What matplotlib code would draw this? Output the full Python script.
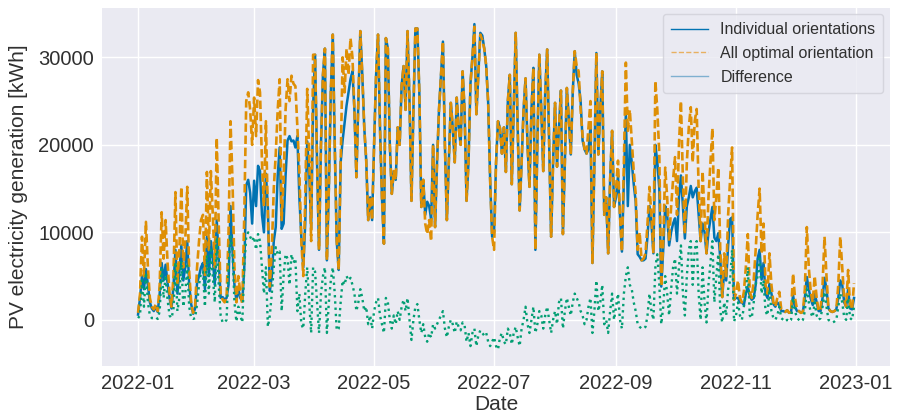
import numpy as np
import pandas as pd
import matplotlib
matplotlib.use("Agg")
import matplotlib.pyplot as plt
import matplotlib.dates as mdates
from matplotlib.lines import Line2D

start_date = "2022-01-01"
series_labels = ["Individual orientations", "All optimal orientation", "Difference"]
tick_months = [1, 3, 5, 7, 9, 11]
y_ticks = [0, 10000, 20000, 30000]

# All optimal orientation (kWh per day)
optimal = [
    # Jan
    800, 3000, 9500, 5000, 11200, 6000, 2500, 1500, 1200, 1800, 1000, 4000, 12300, 7000, 11400, 6500,
    3000, 1500, 5000, 14600, 4000, 8000, 15200, 6000, 9000, 15200, 5500, 2000, 800, 1500, 6000,
    # Feb
    9000, 11400, 12000, 5000, 16900, 8000, 17000, 12000, 6000, 20800, 11000, 3000, 2300, 2000,
    2500, 10000, 22700, 16000, 6000, 2000, 5000, 3000, 1800, 12000, 25000, 26000, 24000, 20000,
    # Mar
    25400, 21000, 27400, 26000, 18000, 13000, 22700, 12000, 3800, 8000, 15000, 18900, 24000, 27500,
    11400, 16000, 24000, 27500, 25000, 27900, 27000, 26700, 22000, 17000, 9000, 5000, 14000, 26400,
    19000, 9000, 30300,
    # Apr
    30300, 18000, 8000, 20000, 28000, 31000, 6800, 15000, 26000, 32600, 20000, 9000, 5700, 18000,
    30000, 26000, 31000, 28000, 32200, 30000, 24000, 16300, 25000, 33000, 28000, 22000, 18200,
    11400, 14000, 11400,
    # May
    20000, 28000, 32600, 22000, 14000, 8700, 32200, 31000, 20000, 14400, 17000, 16000, 22000, 20000,
    26800, 29000, 24000, 33000, 25000, 13600, 24000, 33300, 33300, 26000, 12900, 16000, 11000, 9800,
    11400, 9000, 20000,
    # Jun
    10600, 18000, 24000, 28000, 31800, 20000, 11400, 18000, 24800, 22000, 18000, 25400, 22000, 20000,
    28400, 24000, 13600, 18000, 27000, 30000, 33500, 23500, 28000, 32600, 32000, 31000, 29000, 24800,
    16000, 9500,
    # Jul
    8000, 18000, 22700, 21900, 19000, 22000, 16900, 25000, 28000, 15500, 24000, 32800, 22000, 12500,
    18000, 24000, 27600, 20000, 15200, 24000, 28800, 8000, 20000, 30300, 24000, 17000, 26000, 30900,
    20000, 9500, 18000,
    # Aug
    24800, 17500, 22000, 26200, 9800, 18000, 26500, 23000, 18900, 26000, 30700, 29000, 28400, 24000,
    21000, 19500, 19000, 22000, 25000, 6500, 18000, 30500, 18900, 24000, 28400, 12000, 14000, 7600,
    16000, 21600, 12900,
    # Sep
    15000, 18200, 12000, 7800, 18000, 29400, 21600, 24000, 20500, 17000, 14400, 8000, 10000, 6800,
    7000, 7600, 11000, 15200, 12000, 7600, 27300, 24000, 18900, 3800, 9000, 17400, 14000, 9000,
    12900, 16000,
    # Oct
    18600, 12000, 20000, 25000, 16000, 9800, 18000, 22000, 24300, 18000, 22700, 24100, 15000, 9000,
    17000, 12000, 7600, 14000, 18000, 21900, 11400, 14000, 17400, 8000, 2600, 7600, 5000, 12000,
    16000, 19700, 2300,
    # Nov
    3000, 4500, 2500, 2000, 3200, 6000, 9800, 3200, 2500, 4500, 8000, 12000, 15000, 7600, 11000,
    4000, 3000, 7600, 4000, 2000, 1500, 2500, 3200, 1200, 1000, 900, 1100, 800, 900, 5300,
    # Dec
    2500, 1200, 1000, 800, 900, 3500, 10600, 6000, 3200, 2000, 5000, 2500, 1000, 1200, 4000, 9500,
    5000, 1300, 1000, 900, 1000, 1200, 4000, 9500, 6000, 2300, 1500, 5700, 1500, 1200, 4200,
]

# Individual orientations (kWh per day)
individual = [
    # Jan
    600, 2500, 5000, 3500, 5800, 4000, 2000, 1300, 1000, 1500, 900, 3000, 6500, 4500, 6300, 4200,
    2500, 1300, 3800, 8000, 3000, 5500, 8500, 4500, 6000, 9000, 4000, 1800, 700, 1300, 4200,
    # Feb
    5000, 6000, 6500, 3500, 9500, 5000, 9000, 7000, 4000, 11400, 7000, 2500, 2600, 2300,
    2500, 4000, 13000, 8000, 4000, 2200, 3500, 2500, 2100, 6000, 15400, 16000, 14500, 11000,
    # Mar
    15900, 13000, 17600, 17000, 12000, 10000, 16700, 12800, 3300, 5000, 9000, 10600, 16500, 19700,
    10400, 11000, 16500, 20500, 21000, 20400, 20500, 19700, 21000, 14000, 9500, 6000, 11000, 20400,
    17000, 10500, 24300,
    # Apr
    30300, 18000, 8000, 20000, 28000, 31000, 6800, 15000, 26000, 32600, 20000, 9000, 5700, 18000,
    20500, 22500, 24500, 26000, 27500, 28400, 24000, 16300, 25000, 33000, 28000, 22000, 18200,
    11400, 14000, 11400,
    # May
    20000, 28000, 32600, 22000, 14000, 8700, 32200, 31000, 20000, 14400, 17000, 16000, 22000, 20000,
    26800, 29000, 24000, 33000, 25000, 13600, 24000, 33300, 33300, 26000, 12900, 16000, 12000, 13500,
    13000, 11500, 20000,
    # Jun
    10600, 18000, 24000, 28000, 31800, 20000, 11400, 18000, 24800, 22000, 18000, 25400, 22000, 20000,
    28400, 24000, 13600, 18000, 27000, 30000, 33800, 23500, 28000, 32800, 32500, 31000, 29000, 24800,
    16000, 9500,
    # Jul
    10000, 18000, 22700, 21900, 19000, 22000, 16900, 25000, 28000, 15500, 24000, 32800, 22000, 12500,
    18000, 24000, 27600, 20000, 15200, 24000, 28800, 8000, 20000, 30300, 24000, 17000, 26000, 30900,
    20000, 9500, 18000,
    # Aug
    24800, 17500, 22000, 26200, 9800, 18000, 26500, 23000, 18900, 26000, 30700, 28000, 27000, 25000,
    20500, 19500, 19000, 19500, 22000, 6500, 18000, 30500, 18900, 24000, 28400, 12000, 14000, 7600,
    16000, 21600, 12900,
    # Sep
    14000, 16500, 12000, 7800, 16000, 23500, 13000, 20000, 18000, 15500, 13500, 7500, 7200, 6800,
    6800, 7000, 9500, 13000, 11000, 7600, 20000, 18000, 15000, 3800, 8000, 13000, 12000, 8500,
    10000, 11000,
    # Oct
    11600, 9000, 14000, 16500, 13000, 9300, 13000, 14000, 15300, 14000, 14700, 15100, 12000, 9000,
    11000, 10000, 7600, 10000, 11500, 12900, 9400, 9000, 9900, 7000, 2600, 5600, 4500, 8500,
    11500, 11700, 2300,
    # Nov
    2500, 2500, 2000, 2000, 1700, 3000, 3800, 2700, 2300, 2500, 4000, 7000, 8000, 4600, 6500,
    3000, 2500, 4100, 3000, 1800, 1500, 2000, 1700, 1000, 1000, 900, 1100, 800, 900, 2800,
    # Dec
    1500, 1000, 1000, 800, 900, 2500, 4900, 3500, 2400, 1700, 3000, 2000, 1000, 1000, 2500, 4800,
    3500, 1300, 1000, 900, 1000, 1200, 2500, 4500, 4000, 2000, 1500, 3500, 1300, 1200, 2500,
]

# Difference (kWh per day)
difference = [
    # Jan
    200, 500, 4500, 1500, 5400, 2000, 500, 200, 200, 300, 100, 1000, 5800, 2500, 5100, 2300,
    500, 200, 1200, 6600, 1000, 2500, 6700, 1500, 3000, 6200, 1500, 200, 100, 200, 1800,
    # Feb
    4000, 5400, 5500, 1500, 7400, 3000, 8000, 5000, 2000, 9400, 4000, 500, -300, -300,
    0, 6000, 9700, 8000, 2000, -200, 1500, 500, -300, 6000, 9600, 10000, 9500, 9000,
    # Mar
    9500, 8000, 9800, 9000, 6000, 3000, 6000, -800, 500, 3000, 6000, 8300, 7500, 7800,
    1000, 5000, 7500, 7000, 4000, 7500, 6500, 7000, 1000, 3000, -500, -1000, 3000, 6000,
    2000, -1500, 6000,
    # Apr
    5500, 2000, -1500, 3000, 5000, 6000, -1500, 2000, 4500, 6000, 3000, -1200, -1000, 2000,
    4500, 4000, 5000, 4500, 4800, 4000, 3000, 1000, 2000, 3500, 2500, 1000, 1500,
    -500, 500, -1000,
    # May
    1000, 2000, 2500, 500, -500, -1500, 2500, 2000, 0, -1000, 500, -500, 1000, 0,
    1500, 2300, 1000, 2500, 0, -2300, 0, 1500, 1800, 0, -1500, -500, -2000, -2500,
    -1500, -2000, -500,
    # Jun
    -1000, -500, 0, 500, 1000, -1000, -2000, -800, 0, -500, -1500, -200, -800, -1200,
    -300, -600, -2500, -1500, -3000, -1500, -1000, -3000, -1800, -1200, -1500, -1800, -1500, -2500,
    -3000, -2500,
    # Jul
    -2000, -3000, -3400, -2000, -1500, -2500, -2800, -1000, -1500, -2800, -1500, -800, -2000, -3000,
    -1000, 0, 1500, -500, -1500, 0, 1500, -1500, -500, 1000, 500, -1000, 500, 1500,
    0, -1500, 0,
    # Aug
    1000, -500, 2000, 2500, -1000, 1000, 2500, 1500, 500, 2000, 3000, 2500, 2000, 1000,
    500, -500, 0, 1500, 2500, -1500, 1000, 4500, 1000, 2000, 4000, -500, 0, -1500,
    1000, 3000, 0,
    # Sep
    1500, 3000, 0, -1000, 3000, 5000, 6000, 4000, 3500, 2000, 1000, -500, -800, -1000,
    -1000, -800, 500, 3000, 1000, 0, 6000, 7500, 4000, -500, 1500, 5000, 3000, 500,
    3500, 6000,
    # Oct
    7000, 3000, 6000, 8500, 3000, 500, 5000, 8000, 9000, 4000, 8000, 9000, 3000, 0,
    6000, 2000, -300, 4000, 6500, 9000, 2000, 5000, 7500, 1000, -300, 2000, 500, 3500,
    4500, 8000, -200,
    # Nov
    500, 2000, 500, 0, 1500, 3000, 6000, 500, 200, 2000, 4000, 5000, 7000, 3000, 4500,
    1000, 500, 3500, 1000, 200, 0, 500, 1500, 200, 0, -200, 0, -200, 0, 2500,
    # Dec
    1000, 200, 0, -200, 0, 1000, 3500, 2000, 800, 300, 2000, 500, 0, 200, 1500, 3200,
    1500, 0, -200, -300, -200, 0, 1500, 3000, 2000, 300, 0, 2500, 200, 0, 1500,
]

n = len(optimal)
assert len(individual) == n and len(difference) == n, (len(optimal), len(individual), len(difference))
dates = pd.date_range(start_date, periods=n, freq="D")

plt.rcParams["font.family"] = ["Liberation Sans", "DejaVu Sans"]
text_color = "#303030"

fig = plt.figure(figsize=(8.97, 4.12), dpi=100)
ax = fig.add_axes([0.114, 0.112, 0.878, 0.869])
ax.set_facecolor("#EAEAF2")
for s in ax.spines.values():
    s.set_visible(False)
ax.grid(True, color="white", linewidth=1.0)
ax.set_axisbelow(True)

c_blue, c_orange, c_green = "#0173b2", "#de8f05", "#029e73"
ax.plot(dates, individual, color=c_blue, lw=1.8, ls="-")
ax.plot(dates, optimal, color=c_orange, lw=1.9, ls="--", dashes=(3.2, 1.4))
ax.plot(dates, difference, color=c_green, lw=1.7, ls=":")

ax.xaxis.set_major_locator(mdates.MonthLocator(bymonth=tick_months))
ax.xaxis.set_major_formatter(mdates.DateFormatter("%Y-%m"))
ax.set_yticks(y_ticks)
ax.tick_params(axis="both", length=0, labelsize=14.5, colors=text_color, pad=6)
ax.set_xlabel("Date", fontsize=15, color=text_color, labelpad=1)
ax.set_ylabel("PV electricity generation [kWh]", fontsize=15, color=text_color, labelpad=7)

handles = [
    Line2D([], [], color=c_blue, lw=1.0, ls="-"),
    Line2D([], [], color="#e8b060", lw=1.0, ls="--"),
    Line2D([], [], color="#7fb0d0", lw=1.0, ls="-"),
]
leg = ax.legend(handles, series_labels, loc="upper right", fontsize=11.5, frameon=True,
                facecolor="#EAEAF2", edgecolor="#d0d0d8", framealpha=0.8,
                borderaxespad=0.4, handlelength=2.3, labelspacing=0.55, borderpad=0.5)
for t in leg.get_texts():
    t.set_color(text_color)

fig.savefig("out.png", dpi=100)
